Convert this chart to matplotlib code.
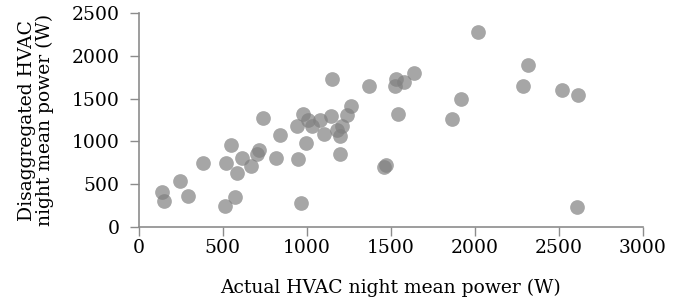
import numpy as np
import matplotlib
matplotlib.use("Agg")
import matplotlib.pyplot as plt

# actual vs disaggregated HVAC night mean power (W)
actual = [138, 152, 245, 294, 382, 514, 576, 522, 552, 588, 615, 667, 705, 715,
          740, 816, 841, 948, 964, 940, 980, 994, 1006, 1030, 1079, 1105, 1143,
          1152, 1178, 1208, 1196, 1196, 1238, 1264, 1369, 1462, 1470, 1529, 1527,
          1543, 1579, 1636, 1918, 1866, 2017, 2314, 2288, 2520, 2615, 2609]
disagg = [412, 300, 537, 362, 751, 245, 347, 751, 961, 631, 806, 716, 853, 899,
          1270, 806, 1071, 794, 277, 1180, 1320, 977, 1250, 1180, 1250, 1086, 1300,
          1732, 1133, 1180, 1066, 853, 1308, 1413, 1643, 704, 720, 1729, 1647,
          1324, 1690, 1799, 1499, 1258, 2281, 1888, 1647, 1597, 1538, 230]

xticks = [0, 500, 1000, 1500, 2000, 2500, 3000]
yticks = [0, 500, 1000, 1500, 2000, 2500]

plt.rcParams['font.family'] = ['DejaVu Serif']
fs = 13.5

fig = plt.figure(figsize=(6.83, 3.03), dpi=100)
ax = fig.add_axes([0.2028, 0.2508, 0.7386, 0.7062])

ax.scatter(actual, disagg, s=112, color='#808080', alpha=0.7, linewidths=0)

ax.set_xlim(0, 3000)
ax.set_ylim(0, 2500)
ax.set_xticks(xticks)
ax.set_yticks(yticks)

for side in ['top', 'right']:
    ax.spines[side].set_visible(False)
for side in ['left', 'bottom']:
    ax.spines[side].set_color('#8c8c8c')
    ax.spines[side].set_linewidth(1.2)
ax.tick_params(direction='out', length=6.5, width=1, color='#8c8c8c', labelsize=fs)
ax.tick_params(axis='x', pad=2)
ax.tick_params(axis='y', pad=7)

ax.set_xlabel('Actual HVAC night mean power (W)', fontsize=fs)
ax.set_ylabel('Disaggregated HVAC\nnight mean power (W)', fontsize=fs, linespacing=1.0)
ax.xaxis.set_label_coords(0.5, -0.24)
ax.yaxis.set_label_coords(-0.168, 0.5)
ax.patch.set_visible(False)
for c in ax.collections:
    c.set_clip_on(False)

fig.savefig('out.png', dpi=100)
